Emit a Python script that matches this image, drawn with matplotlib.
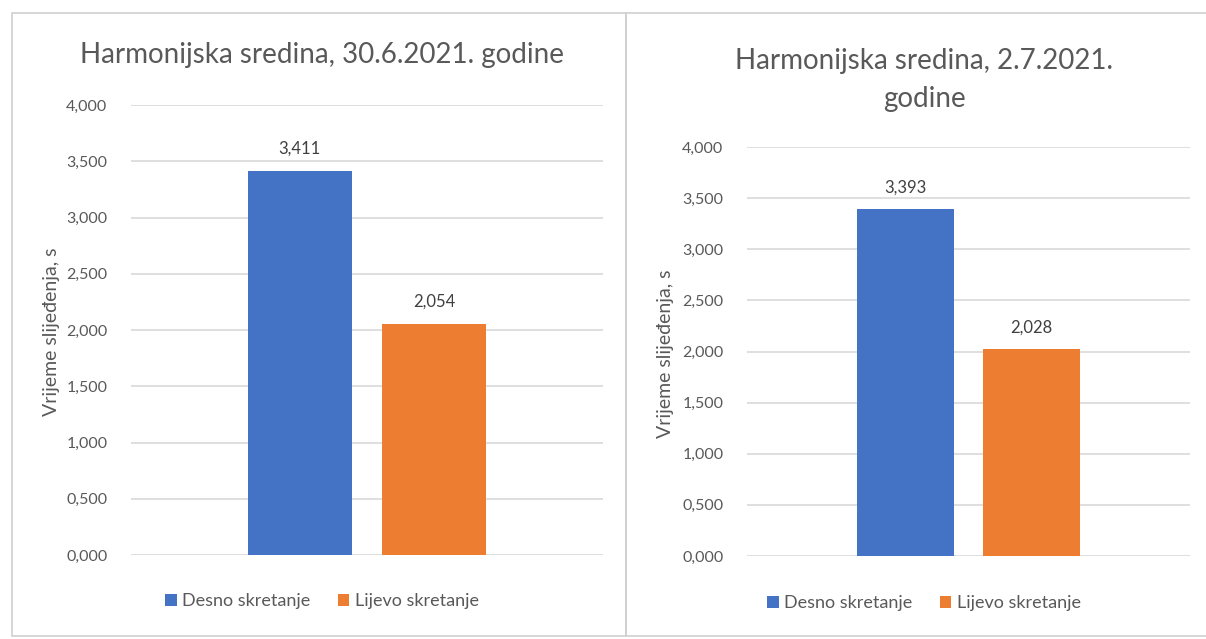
import matplotlib.pyplot as plt
from matplotlib.patches import Rectangle
from matplotlib.ticker import FuncFormatter, MultipleLocator

plt.rcParams["font.family"] = ["Lato", "DejaVu Sans"]

series = ["Desno skretanje", "Lijevo skretanje"]
colors = ["#4472C4", "#ED7D31"]
titles = ["Harmonijska sredina, 30.6.2021. godine",
          "Harmonijska sredina, 2.7.2021.\ngodine"]
values_3006 = [3.411, 2.054]
values_0207 = [3.393, 2.028]
ylabel = "Vrijeme slijeđenja, s"

W, H = 1206, 639
TEXT = "#595959"
GRID = "#D9D9D9"


def fx(px):
    return px / W


def fy(px):
    return 1 - px / H


def comma(v, pos=None):
    return f"{v:.3f}".replace(".", ",")


def draw_chart(fig, box, values, title, title_y, ylabel_x, legend_y, chart_cx):
    x0, y0, x1, y1 = box
    ax = fig.add_axes([fx(x0), fy(y1), fx(x1 - x0), (y1 - y0) / H])
    width = 0.22
    offs = [-0.1425, 0.1425]
    for name, val, col, off in zip(series, values, colors, offs):
        ax.bar(0.5 + off, val, width=width, color=col, label=name, zorder=3)
        ax.text(0.5 + off, val + 0.13, comma(val), ha="center", va="bottom",
                fontsize=12, color="#404040")
    ax.set_xlim(0, 1)
    ax.set_ylim(0, 4)
    ax.yaxis.set_major_locator(MultipleLocator(0.5))
    ax.yaxis.set_major_formatter(FuncFormatter(comma))
    ax.grid(axis="y", color=GRID, linewidth=1.2, zorder=0)
    ax.set_xticks([])
    for s in ax.spines.values():
        s.set_visible(False)
    ax.tick_params(axis="y", length=0, pad=17, labelsize=11.5, labelcolor=TEXT)
    fig.text(fx(chart_cx), fy(title_y), title, ha="center", va="center",
             fontsize=20, color=TEXT, linespacing=1.6)
    fig.text(fx(ylabel_x), fy((y0 + y1) / 2 + 2), ylabel, rotation=90,
             ha="center", va="center", fontsize=14, color=TEXT)
    handles, labels = ax.get_legend_handles_labels()
    fig.legend(handles, labels, loc="center", ncol=2, frameon=False,
               bbox_to_anchor=(fx(chart_cx), fy(legend_y)), fontsize=13,
               labelcolor=TEXT, handlelength=0.65, handleheight=0.65,
               handletextpad=0.3, columnspacing=1.5)
    return ax


fig = plt.figure(figsize=(W / 100, H / 100), dpi=100)

# chart frames
fig.patches.append(Rectangle((fx(12), fy(636)), fx(626 - 12), (636 - 13) / H,
                             transform=fig.transFigure, fill=False,
                             edgecolor="#D0D0D0", linewidth=1.2))
fig.patches.append(Rectangle((fx(626), fy(636)), fx(W - 626 + 5), (636 - 13) / H,
                             transform=fig.transFigure, fill=False,
                             edgecolor="#D0D0D0", linewidth=1.2))

draw_chart(fig, (131, 105, 603, 555), values_3006, titles[0],
           title_y=55, ylabel_x=52, legend_y=601, chart_cx=322)
draw_chart(fig, (747, 147, 1190, 556), values_0207, titles[1],
           title_y=80, ylabel_x=666, legend_y=603, chart_cx=924)

fig.savefig("out.png", dpi=100)
